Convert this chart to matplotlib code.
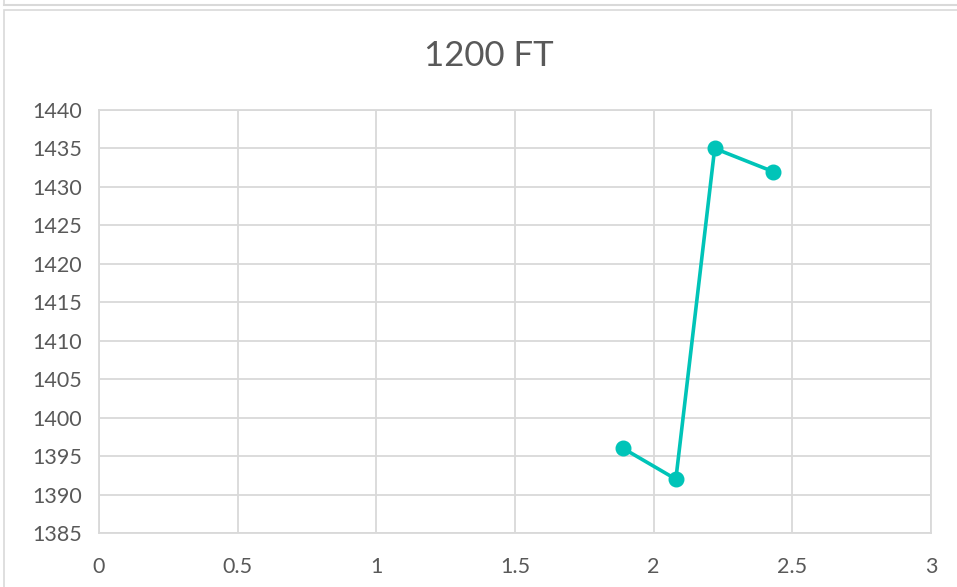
import matplotlib.pyplot as plt
from matplotlib.patches import Rectangle
from matplotlib.lines import Line2D

# readings at 1200 ft
x_vals = [1.89, 2.08, 2.22, 2.43]
y_vals = [1396, 1392, 1435, 1432]
x_ticks = [0, 0.5, 1, 1.5, 2, 2.5, 3]
x_tick_labels = ["0", "0.5", "1", "1.5", "2", "2.5", "3"]
y_ticks = list(range(1385, 1445, 5))
title = "1200 FT"

TEXT = "#595959"
GRID = "#D9D9D9"
TEAL = "#00C4B8"

plt.rcParams["font.family"] = ["Lato", "DejaVu Sans"]

fig = plt.figure(figsize=(9.57, 5.87), dpi=100)
W, H = 957, 587

# chart frame and the edge of the one above it
fig.add_artist(Rectangle((4 / W, -0.05), 1.2, (H - 10) / H + 0.05, transform=fig.transFigure,
                         fill=False, edgecolor=GRID, linewidth=1.2))
fig.add_artist(Line2D([4 / W, 1], [1 - 4.5 / H, 1 - 4.5 / H], transform=fig.transFigure,
                      color=GRID, linewidth=1.5))
fig.add_artist(Line2D([4 / W, 4 / W], [1 - 4.5 / H, 1], transform=fig.transFigure,
                      color=GRID, linewidth=1.2))

ax = fig.add_axes([99 / W, 1 - 533 / H, (931 - 99) / W, (533 - 110) / H])
ax.plot(x_vals, y_vals, color=TEAL, linewidth=2.6, marker="o", markersize=10.5,
        solid_capstyle="round", zorder=3)

ax.set_xlim(0, 3)
ax.set_ylim(1385, 1440)
ax.set_xticks(x_ticks)
ax.set_xticklabels(x_tick_labels)
ax.set_yticks(y_ticks)
ax.grid(True, color=GRID, linewidth=1.3)
ax.set_axisbelow(True)
for s in ax.spines.values():
    s.set_color(GRID)
    s.set_linewidth(1.3)
ax.tick_params(length=0, colors=TEXT, labelsize=15.5)
ax.tick_params(axis="x", pad=17)
ax.tick_params(axis="y", pad=12)

fig.text(489 / W, 1 - 56 / H, title, ha="center", va="center", fontsize=25, color=TEXT)

fig.savefig("out.png", dpi=100)
